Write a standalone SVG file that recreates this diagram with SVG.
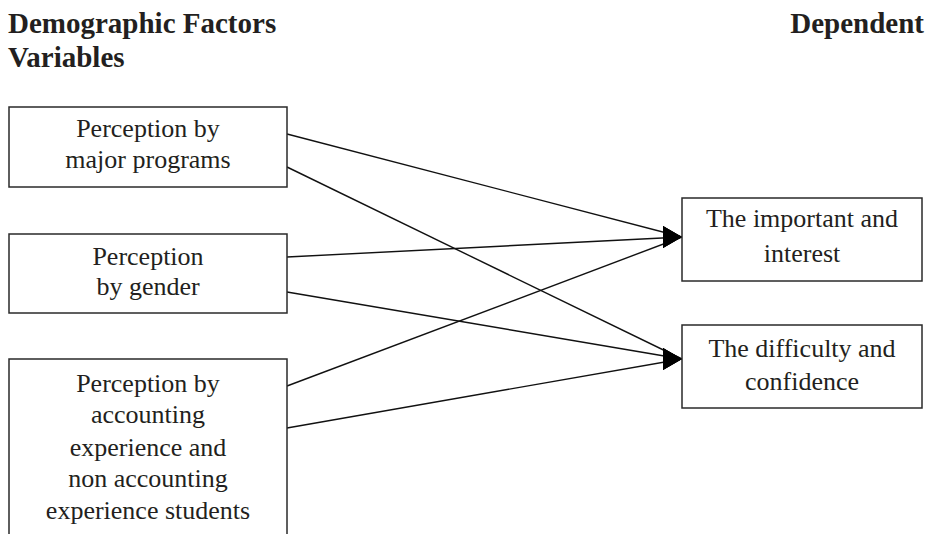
<svg xmlns="http://www.w3.org/2000/svg" width="931" height="534" viewBox="0 0 931 534">
<style>
  .bg { fill: #ffffff; }
  .box { fill: #ffffff; stroke: #2a2a2a; stroke-width: 1.5; }
  .title { font-family: "Liberation Serif", "Times New Roman", serif; font-weight: bold; font-size: 29px; fill: #231f20; }
  .lbl { font-family: "Liberation Serif", "Times New Roman", serif; font-size: 26px; fill: #231f20; text-anchor: middle; }
  .edge { stroke: #111111; stroke-width: 1.4; fill: none; marker-end: url(#arrow); }
</style>
<defs>
  <marker id="arrow" markerUnits="userSpaceOnUse" markerWidth="20" markerHeight="22" refX="19" refY="11" orient="0">
    <path d="M0,0 L19,11 L0,22 Z" fill="#000000"/>
  </marker>
</defs>
<rect class="bg" x="0" y="0" width="931" height="534"/>

<g id="headers">
  <text class="title" x="8" y="33">Demographic Factors</text>
  <text class="title" x="8" y="67">Variables</text>
  <text class="title" x="924" y="33" text-anchor="end">Dependent</text>
</g>

<g id="connectors">
  <line class="edge" x1="287" y1="134" x2="682" y2="237"/>
  <line class="edge" x1="287" y1="167" x2="682" y2="359"/>
  <line class="edge" x1="287" y1="257" x2="682" y2="237"/>
  <line class="edge" x1="287" y1="292" x2="682" y2="359"/>
  <line class="edge" x1="287" y1="386" x2="682" y2="237"/>
  <line class="edge" x1="287" y1="428" x2="682" y2="359"/>
</g>

<g id="node-major">
  <rect class="box" x="9" y="107" width="278" height="80"/>
  <text class="lbl" x="148" y="137">Perception by</text>
  <text class="lbl" x="148" y="168">major programs</text>
</g>

<g id="node-gender">
  <rect class="box" x="9" y="234" width="278" height="79"/>
  <text class="lbl" x="148" y="265">Perception</text>
  <text class="lbl" x="148" y="295">by gender</text>
</g>

<g id="node-experience">
  <rect class="box" x="9" y="359" width="278" height="190"/>
  <text class="lbl" x="148" y="392">Perception by</text>
  <text class="lbl" x="148" y="423">accounting</text>
  <text class="lbl" x="148" y="456">experience and</text>
  <text class="lbl" x="148" y="487">non accounting</text>
  <text class="lbl" x="148" y="519">experience students</text>
</g>

<g id="node-important">
  <rect class="box" x="682" y="198" width="240" height="83"/>
  <text class="lbl" x="802" y="227">The important and</text>
  <text class="lbl" x="802" y="262">interest</text>
</g>

<g id="node-difficulty">
  <rect class="box" x="682" y="325" width="240" height="83"/>
  <text class="lbl" x="802" y="357">The difficulty and</text>
  <text class="lbl" x="802" y="390">confidence</text>
</g>
</svg>
